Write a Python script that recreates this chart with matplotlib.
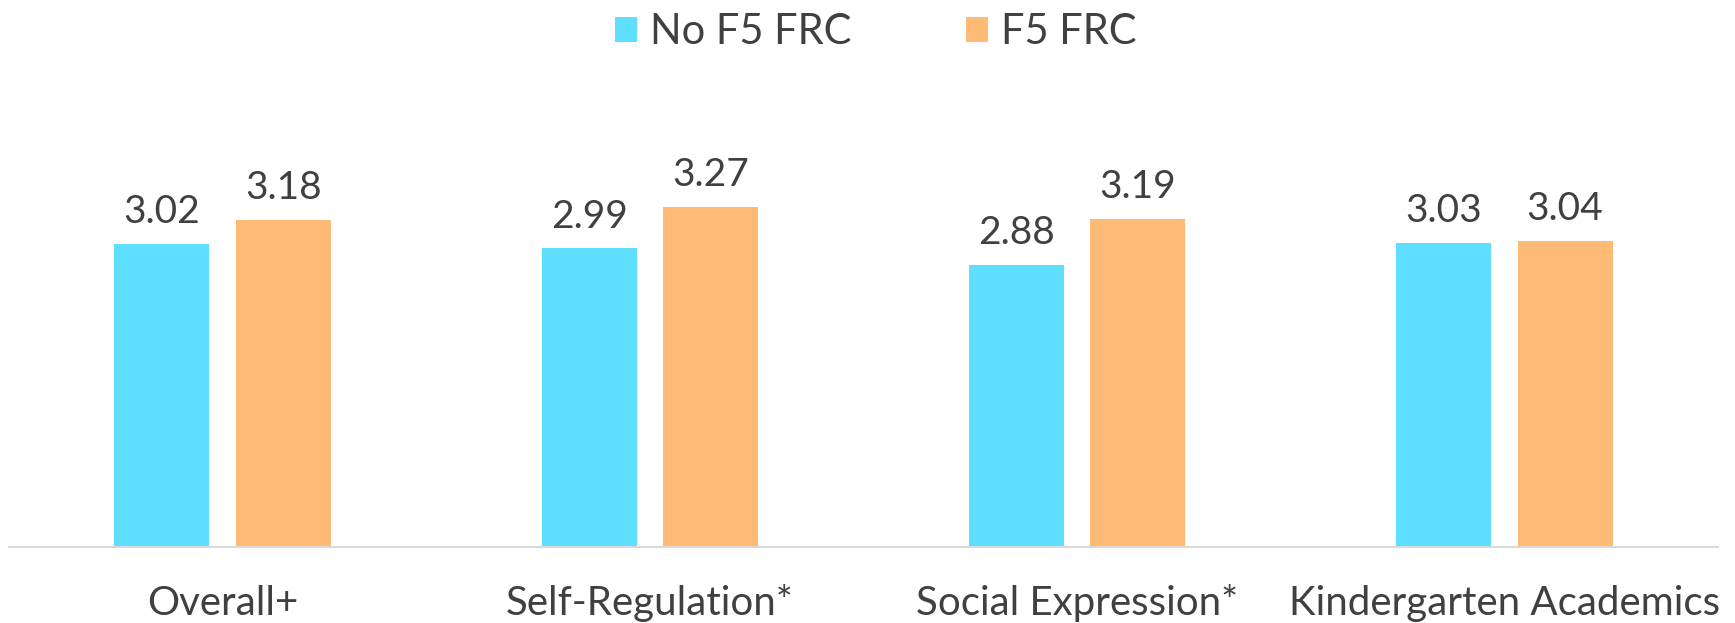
import matplotlib.pyplot as plt
import numpy as np

categories = ['Overall+', 'Self-Regulation*', 'Social Expression*', 'Kindergarten Academics']
no_frc = [3.02, 2.99, 2.88, 3.03]
frc = [3.18, 3.27, 3.19, 3.04]
series_names = ['No F5 FRC', 'F5 FRC']
colors = ['#5EDFFF', '#FFBA76']
text_color = '#404040'

plt.rcParams['font.family'] = ['Lato', 'DejaVu Sans']

fig = plt.figure(figsize=(17.35, 6.23), dpi=100)
ax = fig.add_axes([9 / 1735, 76 / 623, 1709 / 1735, 450 / 623])

x = np.arange(len(categories))
w = 0.2224
off = 0.1422
b1 = ax.bar(x - off, np.array(no_frc) - 1, w, bottom=1, color=colors[0], label=series_names[0])
b2 = ax.bar(x + off, np.array(frc) - 1, w, bottom=1, color=colors[1], label=series_names[1])

for bars, vals in [(b1, no_frc), (b2, frc)]:
    for bar, v in zip(bars, vals):
        ax.annotate(f'{v:.2f}', (bar.get_x() + bar.get_width() / 2, v),
                    xytext=(0, 15), textcoords='offset points',
                    ha='center', va='baseline', fontsize=28, color=text_color)

ax.set_xlim(-0.5, 3.5)
ax.set_ylim(1, 4)
ax.set_yticks([])
ax.set_xticks(x)
ax.set_xticklabels(categories, fontsize=29, color=text_color)
plt.setp(ax.get_xticklabels(), va='baseline')
ax.tick_params(axis='x', length=0, pad=49)
for s in ['top', 'left', 'right']:
    ax.spines[s].set_visible(False)
ax.spines['bottom'].set_color('#d9d9d9')
ax.spines['bottom'].set_linewidth(1.5)

fig.legend(handles=[b1, b2], loc='upper center', bbox_to_anchor=(0.505, 1.012), ncol=2,
           frameon=False, fontsize=30, handlelength=0.53, handleheight=0.53,
           handletextpad=0.31, columnspacing=2.75, labelcolor=text_color, borderaxespad=0.1)

fig.savefig('out.png', dpi=100)
